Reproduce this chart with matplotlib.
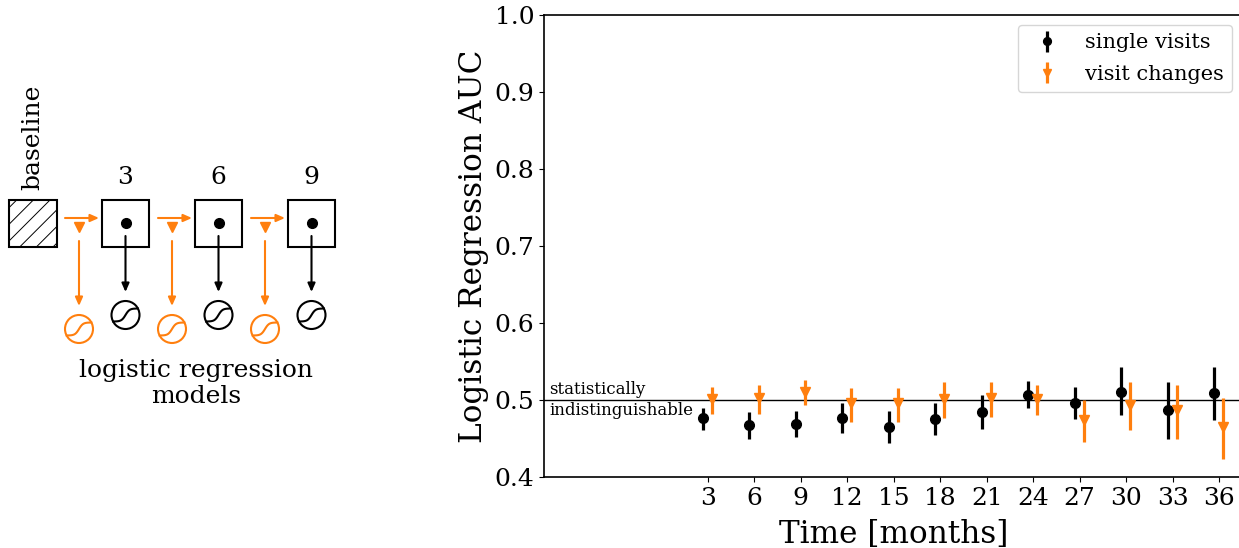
import numpy as np
import matplotlib
matplotlib.use('Agg')
from matplotlib import pyplot as plt
from matplotlib.patches import Rectangle, Circle

plt.rcParams['font.family'] = 'DejaVu Serif'
plt.rcParams['hatch.linewidth'] = 0.7

ORANGE = '#ff7f0e'
W, H = 1239, 548

months = [3, 6, 9, 12, 15, 18, 21, 24, 27, 30, 33, 36]

single_mean = [.476, .467, .469, .476, .465, .475, .485, .507, .496, .511, .487, .509]
single_low = [.461, .449, .452, .457, .444, .454, .462, .490, .475, .480, .450, .474]
single_high = [.490, .484, .486, .496, .486, .496, .507, .525, .517, .543, .523, .543]

change_mean = [.501, .502, .511, .496, .496, .501, .502, .501, .474, .494, .487, .465]
change_low = [.482, .482, .494, .471, .472, .477, .478, .481, .445, .461, .450, .423]
change_high = [.517, .519, .526, .516, .516, .523, .523, .520, .500, .524, .520, .502]

box_labels = ['3', '6', '9']
box_x = [125.5, 218.5, 311.5]
change_x = [79, 172, 265]

fig = plt.figure(figsize=(W / 100, H / 100), dpi=100)

# schematic on the left, axes in pixels
sk = fig.add_axes([0, 0, 430 / W, 1])
sk.set_xlim(0, 430)
sk.set_ylim(H, 0)
sk.axis('off')


def sigmoid(x, y, color):
    sk.add_patch(Circle((x, y), 14, fc='white', ec=color, lw=1.5))
    t = np.linspace(-12.3, 12.3, 40)
    sk.plot(x + t, y - 6.5 * np.tanh(t / 4), color=color, lw=1.5)


def arrow(x0, y0, x1, y1, color):
    sk.annotate('', xy=(x1, y1), xytext=(x0, y0),
                arrowprops=dict(arrowstyle='-|>,head_width=0.22,head_length=0.5', color=color,
                                lw=1.5, shrinkA=0, shrinkB=0))


sk.add_patch(Rectangle((9, 199.5), 47.5, 47, fc='white', ec='black', lw=1.5, hatch='//'))
sk.text(33, 190, 'baseline', rotation=90, ha='center', va='bottom', fontsize=18)

for x, lab in zip(box_x, box_labels):
    sk.add_patch(Rectangle((x - 23.5, 199.5), 47, 47, fc='white', ec='black', lw=1.5))
    sk.plot([x], [223], 'o', color='black', ms=7)
    sk.text(x, 189, lab, ha='center', va='bottom', fontsize=18)
    arrow(x, 236, x, 292, 'black')
    sigmoid(x, 315, 'black')

for x in change_x:
    arrow(x - 14, 218, x + 20, 218, ORANGE)
    sk.plot([x], [227], 'v', color=ORANGE, ms=7)
    arrow(x, 241, x, 306, ORANGE)
    sigmoid(x, 329, ORANGE)

sk.text(196, 383.5, 'logistic regression\nmodels', ha='center', va='center', fontsize=18,
        linespacing=1.2)

# main chart, runs slightly past the right edge of the figure
ax = fig.add_axes([544 / W, 1 - 477 / H, 699 / W, 462 / H])
x = np.array(months)
s = np.array(single_mean)
c = np.array(change_mean)

ax.axhline(0.5, color='black', lw=1, zorder=1)
ax.errorbar(x - 0.32, s, yerr=[s - np.array(single_low), np.array(single_high) - s],
            fmt='o', color='black', ms=7, elinewidth=2.3, label='single visits')
ax.errorbar(x + 0.28, c, yerr=[c - np.array(change_low), np.array(change_high) - c],
            fmt='v', color=ORANGE, ms=7, elinewidth=2.3, label='visit changes')

ax.set_xlim(-7.56, 37.54)
ax.set_ylim(0.4, 1.0)
ax.set_xticks(months)
ax.set_yticks([0.4, 0.5, 0.6, 0.7, 0.8, 0.9, 1.0])
ax.tick_params(labelsize=18)
for sp in ax.spines.values():
    sp.set_linewidth(1.2)
ax.set_xlabel('Time [months]', fontsize=22.4, labelpad=7)
ax.set_ylabel('Logistic Regression AUC', fontsize=22.4, labelpad=4)
ax.text(-7.2, 0.503, 'statistically', fontsize=12, va='bottom', ha='left')
ax.text(-7.2, 0.497, 'indistinguishable', fontsize=12, va='top', ha='left')
ax.legend(loc='upper right', bbox_to_anchor=(688 / 699, 0.978), borderaxespad=0, fontsize=15,
          markerscale=0.8, labelspacing=0.6)

fig.savefig('out.png', dpi=100)
